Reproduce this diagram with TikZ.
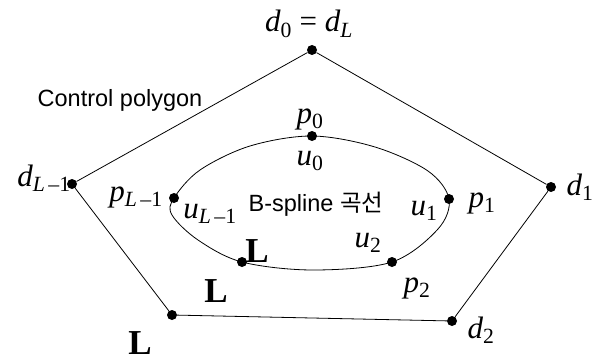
\documentclass[tikz,border=0pt]{standalone}
\usepackage{fontspec}
\setmainfont{Liberation Serif}
\newfontfamily\sansf{Liberation Sans}
\newfontfamily\krf{Noto Sans CJK KR}
\newcommand\sy[2]{{\itshape #1}\textsubscript{#2}}
\begin{document}
\begin{tikzpicture}[x=1pt,y=-1pt,
  dot/.style={circle,fill=black,inner sep=0pt,minimum size=10pt},
  lab/.style={anchor=base,font=\fontsize{31}{34}\selectfont,inner sep=0pt},
  txt/.style={font=\sansf\fontsize{23.5}{26}\selectfont,inner sep=0pt},
  bigL/.style={anchor=base,font=\bfseries\fontsize{35}{37}\selectfont,inner sep=0pt},
  edge/.style={line width=0.8pt}]
\useasboundingbox (0,0) rectangle (594,361);
% control polygon vertices
\node[dot] (d0) at (312,50) {};
\node[dot] (d1) at (551,187) {};
\node[dot] (d2) at (452,321) {};
\node[dot] (dl2) at (172,315) {};
\node[dot] (dlm) at (72,184) {};
\draw[edge] (d0) -- (d1) -- (d2) -- (dl2) -- (dlm) -- (d0);
% curve points
\node[dot] (p0) at (312,136) {};
\node[dot] (p1) at (449,199) {};
\node[dot] (p2) at (392,262) {};
\node[dot] (pb) at (242,262) {};
\node[dot] (plm) at (174,198) {};
\coordinate (c1) at (375,147);
\coordinate (c2) at (428,171);
\coordinate (c3) at (438,229);
\coordinate (c4) at (313,270);
\coordinate (c5) at (198,240);
\coordinate (c6) at (172,215);
\coordinate (c7) at (200,170);
\coordinate (c8) at (250,146);
\draw[edge] plot[smooth cycle,tension=0.55] coordinates {(p0.center) (c1) (c2) (p1.center) (c3) (p2.center) (c4) (pb.center) (c5) (c6) (plm.center) (c7) (c8)};
% labels
\node[lab] (ld0) at (309,32) {\sy{d}{0} = \sy{d}{\itshape L}};
\node[lab] (ld1) at (580,195) {\sy{d}{1}};
\node[lab] (ld2) at (481,338) {\sy{d}{2}};
\node[lab] (ldlm) at (44,186) {\sy{d}{{\itshape L}\,–1}};
\node[lab] (lp0) at (310,123) {\sy{p}{0}};
\node[lab] (lu0) at (310,165) {\sy{u}{0}};
\node[lab] (lp1) at (482,207) {\sy{p}{1}};
\node[lab] (lu1) at (424,215) {\sy{u}{1}};
\node[lab] (lp2) at (417,292) {\sy{p}{2}};
\node[lab] (lu2) at (368,247) {\sy{u}{2}};
\node[lab] (lplm) at (136,201) {\sy{p}{{\itshape L}\,–1}};
\node[lab] (lulm) at (210,218) {\sy{u}{{\itshape L}\,–1}};
\node[txt] (cp) at (120,100) {Control polygon};
\node[txt] (bs) at (316,204) {B-spline {\krf 곡선}};
\node[bigL] (L1) at (257,262) {L};
\node[bigL] (L2) at (216,302) {L};
\node[bigL] (L3) at (140,354) {L};
\end{tikzpicture}
\end{document}
